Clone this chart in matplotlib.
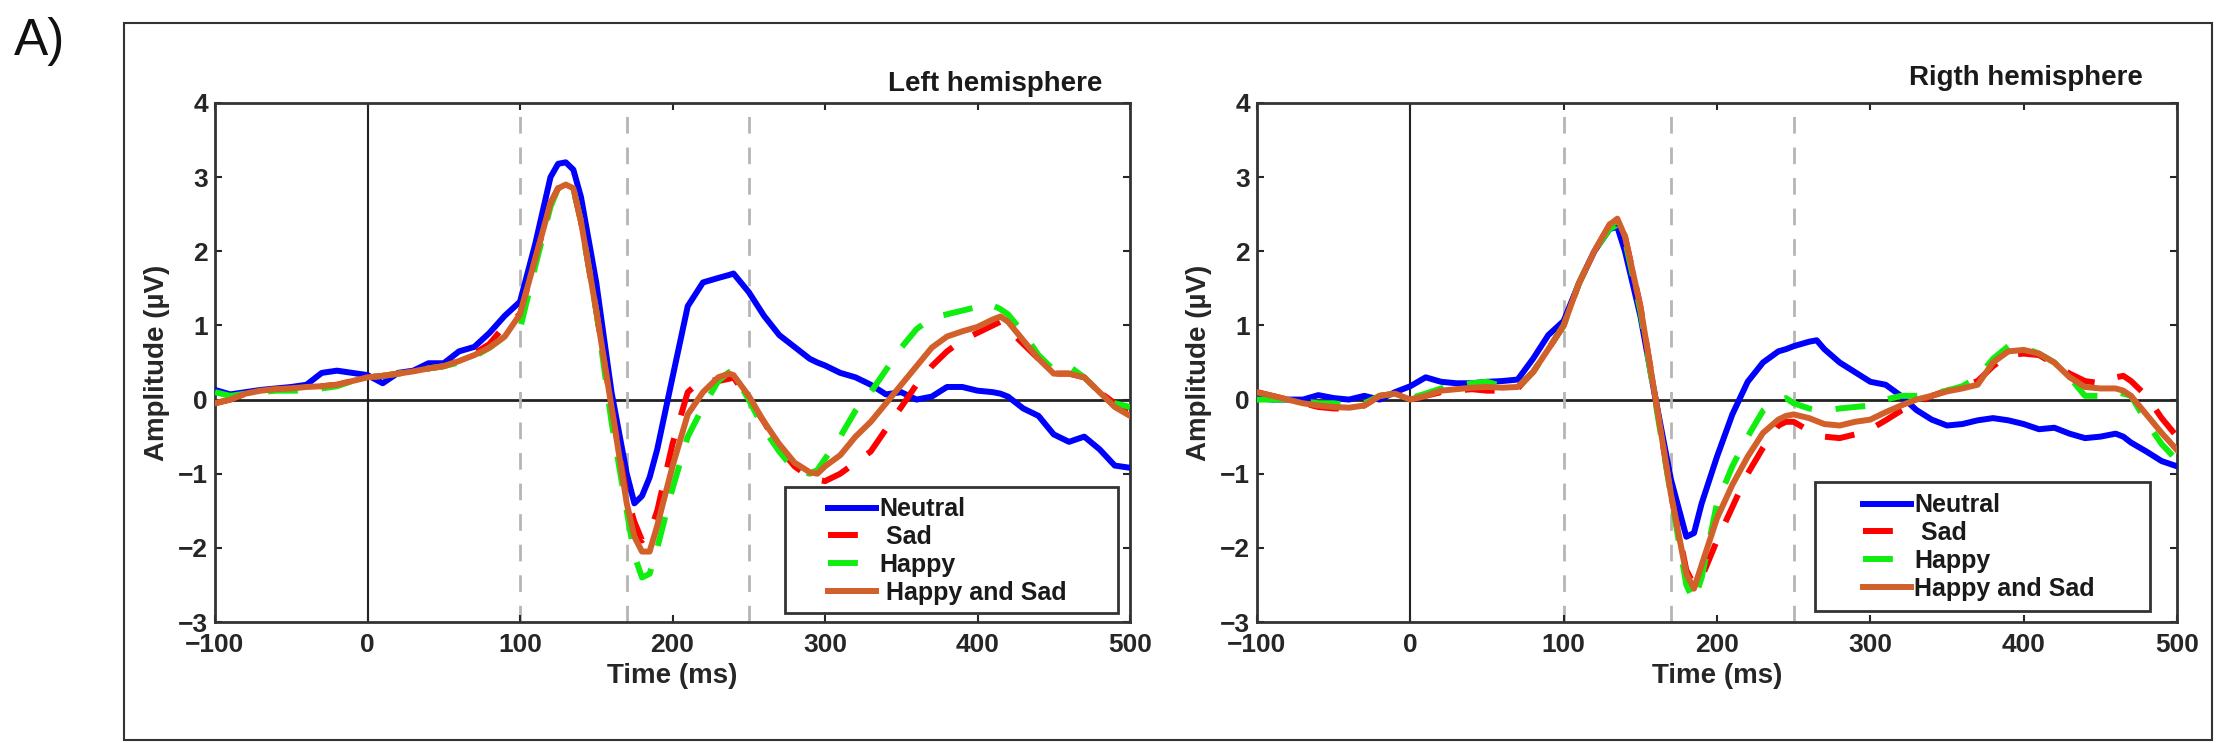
import matplotlib
matplotlib.use("Agg")
import matplotlib.pyplot as plt
from matplotlib.patches import Rectangle

plt.rcParams['font.family'] = ['Liberation Sans', 'DejaVu Sans']
plt.rcParams['font.weight'] = 'bold'

# ---- data ----
t_left = [-100, -90, -80, -70, -60, -50, -40, -30, -20, -10, 0, 10, 20, 30, 40, 50, 60, 70, 80, 90,
          100, 110, 120, 125, 130, 135, 140, 150, 160, 170, 175, 180, 185, 190, 200, 210, 220, 230,
          237, 240, 250, 260, 270, 280, 290, 295, 300, 310, 320, 330, 340, 350, 360, 370, 380, 390,
          400, 405, 410, 415, 420, 430, 440, 450, 460, 470, 480, 490, 500]

neutral_left = [0.13, 0.07, 0.10, 0.13, 0.15, 0.17, 0.20, 0.36, 0.39, 0.36, 0.33, 0.22, 0.36, 0.39,
                0.49, 0.49, 0.65, 0.71, 0.90, 1.13, 1.32, 2.10, 3.00, 3.18, 3.20, 3.10, 2.73, 1.58,
                0.10, -1.00, -1.40, -1.30, -1.05, -0.67, 0.30, 1.26, 1.58, 1.64, 1.68, 1.70, 1.45,
                1.13, 0.87, 0.71, 0.55, 0.50, 0.46, 0.36, 0.30, 0.20, 0.07, 0.10, 0.00, 0.04, 0.17,
                0.17, 0.12, 0.11, 0.10, 0.08, 0.04, -0.12, -0.22, -0.47, -0.57, -0.50, -0.67, -0.89,
                -0.92]

sad_left = [-0.05, 0.00, 0.08, 0.12, 0.14, 0.15, 0.17, 0.18, 0.20, 0.25, 0.30, 0.32, 0.35, 0.38,
            0.42, 0.45, 0.52, 0.62, 0.75, 1.00, 1.15, 1.90, 2.65, 2.85, 2.90, 2.85, 2.40, 1.20,
            -0.10, -1.30, -1.65, -1.90, -1.80, -1.50, -0.60, 0.10, 0.28, 0.25, 0.28, 0.30, 0.00,
            -0.30, -0.65, -0.90, -1.05, -1.08, -1.10, -1.00, -0.85, -0.70, -0.40, -0.10, 0.20,
            0.45, 0.65, 0.80, 0.90, 0.95, 1.00, 1.05, 0.95, 0.75, 0.55, 0.35, 0.35, 0.30, 0.10,
            -0.05, -0.15]

happy_left = [0.10, 0.05, 0.08, 0.10, 0.12, 0.12, 0.12, 0.15, 0.18, 0.25, 0.30, 0.32, 0.35, 0.38,
              0.42, 0.45, 0.50, 0.58, 0.70, 0.85, 0.95, 1.80, 2.60, 2.85, 2.90, 2.85, 2.40, 1.20,
              -0.30, -1.50, -2.10, -2.40, -2.35, -2.00, -1.20, -0.50, -0.10, 0.25, 0.37, 0.35,
              0.00, -0.40, -0.70, -0.95, -1.00, -0.95, -0.80, -0.50, -0.15, 0.10, 0.40, 0.70, 0.95,
              1.10, 1.15, 1.20, 1.25, 1.30, 1.27, 1.22, 1.15, 0.90, 0.60, 0.40, 0.45, 0.30, 0.10,
              -0.05, -0.10]

both_left = [-0.05, 0.00, 0.08, 0.12, 0.14, 0.15, 0.17, 0.18, 0.20, 0.25, 0.30, 0.32, 0.35, 0.38,
             0.42, 0.45, 0.52, 0.60, 0.70, 0.85, 1.15, 1.90, 2.65, 2.85, 2.90, 2.85, 2.40, 1.20,
             -0.10, -1.40, -1.85, -2.05, -2.05, -1.70, -0.90, -0.20, 0.10, 0.30, 0.35, 0.33, 0.05,
             -0.30, -0.60, -0.85, -0.98, -1.00, -0.90, -0.75, -0.50, -0.30, -0.05, 0.20, 0.45,
             0.70, 0.85, 0.92, 0.98, 1.03, 1.08, 1.12, 1.05, 0.80, 0.55, 0.35, 0.35, 0.30, 0.10,
             -0.10, -0.22]

t_right = [-100, -90, -80, -70, -60, -50, -40, -30, -20, -10, 0, 10, 20, 30, 40, 50, 60, 70, 80, 90,
           100, 110, 120, 130, 135, 140, 150, 160, 170, 180, 185, 190, 200, 210, 220, 230, 240, 245,
           250, 260, 265, 270, 280, 290, 300, 310, 320, 330, 340, 350, 360, 370, 380, 390, 400, 410,
           420, 430, 440, 450, 460, 465, 470, 480, 490, 500]

neutral_right = [0.02, 0.00, 0.00, 0.00, 0.06, 0.02, 0.00, 0.05, 0.00, 0.10, 0.18, 0.30, 0.24,
                 0.22, 0.22, 0.24, 0.25, 0.27, 0.55, 0.87, 1.06, 1.57, 2.00, 2.30, 2.33, 2.00,
                 1.13, 0.00, -1.08, -1.85, -1.80, -1.40, -0.77, -0.20, 0.24, 0.50, 0.65, 0.68,
                 0.72, 0.78, 0.80, 0.68, 0.50, 0.37, 0.24, 0.20, 0.05, -0.14, -0.27, -0.35, -0.33,
                 -0.28, -0.25, -0.28, -0.33, -0.40, -0.38, -0.46, -0.52, -0.50, -0.46, -0.50,
                 -0.58, -0.70, -0.83, -0.90]

sad_right = [0.10, 0.05, 0.00, -0.05, -0.10, -0.12, -0.12, -0.08, 0.05, 0.08, 0.00, 0.05, 0.10,
             0.12, 0.14, 0.12, 0.12, 0.15, 0.37, 0.68, 1.00, 1.57, 2.00, 2.36, 2.44, 2.20, 1.26,
             0.00, -1.28, -2.30, -2.50, -2.40, -1.90, -1.45, -1.00, -0.65, -0.35, -0.30, -0.30,
             -0.42, -0.46, -0.50, -0.52, -0.47, -0.40, -0.28, -0.15, -0.05, 0.05, 0.12, 0.18,
             0.25, 0.45, 0.60, 0.62, 0.60, 0.48, 0.35, 0.25, 0.22, 0.30, 0.32, 0.25, 0.05,
             -0.25, -0.50]

happy_right = [0.00, 0.00, 0.00, -0.02, -0.05, -0.05, -0.08, -0.05, 0.05, 0.08, 0.02, 0.08, 0.15,
               0.18, 0.22, 0.24, 0.18, 0.17, 0.37, 0.68, 1.00, 1.57, 2.00, 2.30, 2.36, 2.15,
               1.20, -0.05, -1.30, -2.50, -2.72, -2.40, -1.40, -0.90, -0.50, -0.15, 0.00, 0.02,
               -0.05, -0.12, -0.14, -0.15, -0.12, -0.10, -0.08, 0.00, 0.05, 0.05, 0.08, 0.12,
               0.18, 0.30, 0.55, 0.72, 0.70, 0.62, 0.50, 0.30, 0.05, 0.05, 0.10, 0.08, 0.05,
               -0.30, -0.60, -0.82]

both_right = [0.10, 0.05, 0.00, -0.05, -0.08, -0.10, -0.11, -0.08, 0.05, 0.08, 0.00, 0.05, 0.12,
              0.14, 0.16, 0.17, 0.16, 0.17, 0.37, 0.68, 1.00, 1.57, 2.00, 2.36, 2.44, 2.20, 1.26,
              0.00, -1.28, -2.35, -2.55, -2.23, -1.60, -1.15, -0.77, -0.45, -0.27, -0.22, -0.20,
              -0.25, -0.29, -0.33, -0.35, -0.30, -0.27, -0.17, -0.08, 0.00, 0.05, 0.11, 0.15,
              0.20, 0.50, 0.65, 0.67, 0.62, 0.50, 0.30, 0.17, 0.15, 0.15, 0.12, 0.05, -0.20,
              -0.45, -0.68]

labels_left = ["Neutral", " Sad", "Happy", " Happy and Sad"]
labels_right = ["Neutral", " Sad", "Happy", "Happy and Sad"]
xticks = [-100, 0, 100, 200, 300, 400, 500]
yticks = [-3, -2, -1, 0, 1, 2, 3, 4]
markers = [100, 170, 250]

W, H = 2217, 743
fig = plt.figure(figsize=(W / 100, H / 100), dpi=100)
INK = '#262626'

# outer frame
fig.patches.append(Rectangle((124 / W, 1 - 740 / H), (2212 - 124) / W, (740 - 23) / H,
                             transform=fig.transFigure, fill=False, edgecolor='#333333',
                             linewidth=1.5))
fig.text(14 / W, 1 - 42 / H, "A)", fontsize=37, fontweight='normal', va='center', ha='left',
         color='#111111')


def panel(rect, t, series, labels, title, title_x, title_y, leg_box, leg_anchor):
    ax = fig.add_axes(rect)
    ax.axhline(0, color='#222222', lw=2, zorder=1)
    ax.axvline(0, color='#222222', lw=1.5, zorder=1)
    for m in markers:
        ax.axvline(m, color='#b5b5b5', lw=2, ls=(0, (6, 5)), zorder=1)
    nt, sd, hp, bt = series
    ax.plot(t, nt, color='#0000ff', lw=4.3, label=labels[0], zorder=3)
    ax.plot(t, sd, color='#ff0000', lw=4.3, ls=(0, (5, 4)), label=labels[1], zorder=3)
    ax.plot(t, hp, color='#10ee10', lw=4.3, ls=(0, (5, 4)), label=labels[2], zorder=3)
    ax.plot(t, bt, color='#D2602A', lw=4.3, label=labels[3], zorder=4)
    ax.set_xlim(-100, 500)
    ax.set_ylim(-3, 4)
    ax.set_xticks(xticks)
    ax.set_yticks(yticks)
    ax.tick_params(direction='in', top=True, right=True, length=5, width=1.5,
                   labelsize=19, colors=INK)
    ax.tick_params(axis='x', pad=8)
    ax.tick_params(axis='y', pad=5)
    for s in ax.spines.values():
        s.set_linewidth(2)
        s.set_color('#333333')
    ax.set_xlabel("Time (ms)", fontsize=20, fontweight='bold', color=INK, labelpad=4)
    ax.set_ylabel("Amplitude (\u00b5V)", fontsize=20, fontweight='bold', color=INK,
                  labelpad=6)
    fig.text(title_x / W, 1 - title_y / H, title, fontsize=20, fontweight='bold',
             ha='right', va='center', color='#1a1a1a')

    # legend: frame drawn separately so it can be wider than its entries
    x0, y0, x1, y1 = leg_box
    box = Rectangle((x0 / W, 1 - y1 / H), (x1 - x0) / W, (y1 - y0) / H,
                    transform=fig.transFigure, facecolor='white', edgecolor='#333333',
                    linewidth=2, zorder=5, clip_on=False)
    ax.add_patch(box)
    leg = ax.legend(loc='center left', bbox_to_anchor=(leg_anchor[0] / W, 1 - leg_anchor[1] / H),
                    bbox_transform=fig.transFigure, fontsize=18, frameon=False,
                    handlelength=1.9, handletextpad=0.15, labelspacing=0.15,
                    borderpad=0, borderaxespad=0)
    leg.set_zorder(6)
    for txt in leg.get_texts():
        txt.set_color('#1a1a1a')
    return ax


panel([215 / W, 1 - 622 / H, 915 / W, 519 / H], t_left,
      (neutral_left, sad_left, happy_left, both_left), labels_left,
      "Left hemisphere", 1102, 84, (785, 487, 1118, 613), (828, 551))
panel([1257 / W, 1 - 622 / H, 920 / W, 519 / H], t_right,
      (neutral_right, sad_right, happy_right, both_right), labels_right,
      "Rigth hemisphere", 2143, 78, (1815, 482, 2150, 611), (1863, 547))

fig.savefig("out.png", dpi=100)
